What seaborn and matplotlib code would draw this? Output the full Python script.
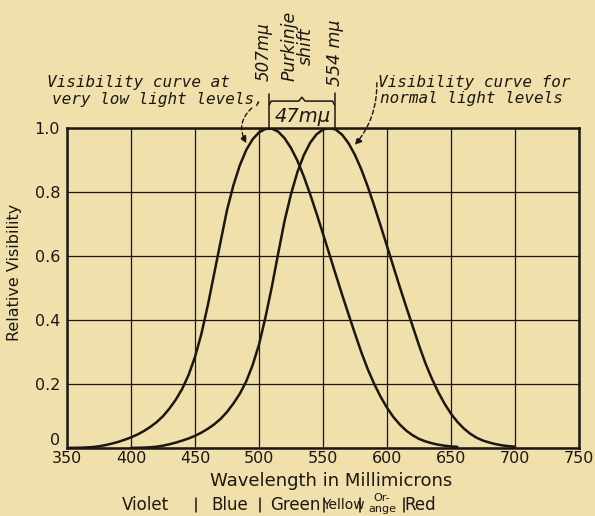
import numpy as np
import pandas as pd
import matplotlib
matplotlib.use('Agg')
import matplotlib.pyplot as plt
import seaborn as sns

# photopic (normal light) curve at 5 nm steps
normal_nm = list(range(400, 705, 5))
normal_vis = [0.0004, 0.0006, 0.0012, 0.0022, 0.004, 0.0073, 0.0116, 0.0168, 0.023, 0.0298,
              0.038, 0.048, 0.06, 0.0739, 0.091, 0.1126, 0.139, 0.1693, 0.208, 0.2586,
              0.323, 0.4073, 0.503, 0.6082, 0.71, 0.7932, 0.862, 0.9149, 0.954, 0.9803,
              0.995, 1.0, 0.995, 0.9786, 0.952, 0.9154, 0.87, 0.8163, 0.757, 0.6949,
              0.631, 0.5668, 0.503, 0.4412, 0.381, 0.321, 0.265, 0.217, 0.175, 0.1382,
              0.107, 0.0816, 0.061, 0.0446, 0.032, 0.0232, 0.017, 0.0119, 0.0082, 0.0057,
              0.0041]

# scotopic (very low light) curve at 5 nm steps
low_nm = list(range(350, 660, 5))
low_vis = [0.0003, 0.0005, 0.0009, 0.0016, 0.0029, 0.0053, 0.009, 0.0137, 0.019, 0.0257,
           0.0331, 0.042, 0.0528, 0.0656, 0.0807, 0.0993, 0.1232, 0.151, 0.1847, 0.2283,
           0.2844, 0.3567, 0.4456, 0.5451, 0.6449, 0.7433, 0.8207, 0.8831, 0.931, 0.9645,
           0.9861, 0.997, 0.998, 0.9885, 0.968, 0.9374, 0.898, 0.8485, 0.7926, 0.7322,
           0.6693, 0.6053, 0.5413, 0.4783, 0.4171, 0.357, 0.2986, 0.2458, 0.2002, 0.1603,
           0.1257, 0.0968, 0.0734, 0.0544, 0.0398, 0.0285, 0.0207, 0.0149, 0.0104, 0.0072,
           0.0049, 0.0034]

x_ticks = [350, 400, 450, 500, 550, 600, 650, 700, 750]
y_ticks = [0, 0.2, 0.4, 0.6, 0.8, 1.0]
y_ticklabels = ['0', '0.2', '0.4', '0.6', '0.8', '1.0']

peak_low, peak_normal = 507, 554
shift_label = '47m\u03bc'

# colour names under the axis
band_names = ['Violet', 'Blue', 'Green', 'Yellow', 'Red']
band_centres = [411.5, 477, 528, 566, 626]
band_edges = [451, 501, 550.5, 579, 613.5]

bg = '#efe0ac'
ink = '#1c1712'
lettering = 'DejaVu Sans Mono'

sns.set_style('white', {'axes.facecolor': bg, 'figure.facecolor': bg})
plt.rcParams['font.family'] = ['DejaVu Sans']

fig = plt.figure(figsize=(5.95, 5.16), dpi=100)
ax = fig.add_axes([0.1126, 0.1318, 0.8605, 0.6202])

df_normal = pd.DataFrame({'nm': normal_nm, 'vis': normal_vis})
df_low = pd.DataFrame({'nm': low_nm, 'vis': low_vis})
sns.lineplot(data=df_low, x='nm', y='vis', color=ink, lw=1.8, ax=ax, zorder=3)
sns.lineplot(data=df_normal, x='nm', y='vis', color=ink, lw=1.8, ax=ax, zorder=3)

ax.set_xlim(350, 750)
ax.set_ylim(0, 1.0)
ax.set_xticks(x_ticks)
ax.set_yticks(y_ticks)
ax.set_yticklabels(y_ticklabels)
ax.tick_params(axis='x', length=0, labelsize=11.5, colors=ink, pad=2)
ax.tick_params(axis='y', length=0, labelsize=11.5, colors=ink, pad=5)
ax.get_yticklabels()[0].set_va('bottom')
ax.grid(True, color=ink, lw=0.9)
for s in ax.spines.values():
    s.set_color(ink)
    s.set_linewidth(1.8)
ax.set_xlabel('')
ax.set_ylabel('')

fig.text(0.025, 0.473, 'Relative Visibility', rotation=90, ha='center', va='center',
         fontsize=11.5, color=ink)
fig.text(0.557, 0.068, 'Wavelength in Millimicrons', ha='center', va='center',
         fontsize=13, color=ink)

# peak markers, bracket box and labels above the plot
ax.plot([peak_low + 0.5, peak_low + 0.5], [1.0, 1.105], color=ink, lw=1.1, clip_on=False)
ax.plot([559, 559], [1.0, 1.11], color=ink, lw=1.1, clip_on=False)
bx = [508, 509.5, 531, 533.5, 536, 557.5, 559]
by = [1.072, 1.084, 1.084, 1.096, 1.084, 1.084, 1.072]
ax.plot(bx, by, color=ink, lw=1.1, clip_on=False)
ax.text(534, 1.035, shift_label, ha='center', va='center', fontsize=14, style='italic',
        color=ink)
ax.text(503.5, 1.24, f'{peak_low}m\u03bc', rotation=90, ha='center', va='center',
        fontsize=12, style='italic', color=ink)
ax.text(559, 1.235, f'{peak_normal} m\u03bc', rotation=90, ha='center', va='center',
        fontsize=12.5, style='italic', color=ink)
ax.text(530, 1.255, 'Purkinje\nshift', rotation=90, ha='center', va='center',
        fontsize=12.5, style='italic', color=ink, linespacing=0.85)

# curve captions with dashed leaders
cap = dict(ha='left', va='baseline', fontsize=11.5, style='italic', color=ink,
           family=lettering)
ax.text(334.5, 1.128, 'Visibility curve at', **cap)
ax.text(338.5, 1.075, 'very low light levels,', **cap)
ax.text(593, 1.128, 'Visibility curve for', **cap)
ax.text(594.5, 1.078, 'normal light levels', **cap)
ax.annotate('', xy=(491.5, 0.945), xytext=(496, 1.068), annotation_clip=False,
            arrowprops=dict(arrowstyle='-|>', color=ink, lw=1.0, linestyle=(0, (3, 2)),
                            connectionstyle='arc3,rad=0.45', mutation_scale=10))
ax.annotate('', xy=(573.5, 0.94), xytext=(592, 1.15), annotation_clip=False,
            arrowprops=dict(arrowstyle='-|>', color=ink, lw=1.0, linestyle=(0, (3, 2)),
                            connectionstyle='arc3,rad=-0.2', mutation_scale=10))

# colour band names under the axis
band_y = -0.178
for name, c in zip(band_names, band_centres):
    fs = 10 if name == 'Yellow' else 12
    ax.text(c, band_y, name, ha='center', va='center', fontsize=fs, color=ink)
for e in band_edges:
    ax.plot([e, e], [band_y - 0.022, band_y + 0.022], color=ink, lw=1.1, clip_on=False)
ax.text(596, -0.157, 'Or-', ha='center', va='center', fontsize=8, color=ink)
ax.text(596, -0.19, 'ange', ha='center', va='center', fontsize=8, color=ink)

fig.savefig('out.png', dpi=100, facecolor=bg)
